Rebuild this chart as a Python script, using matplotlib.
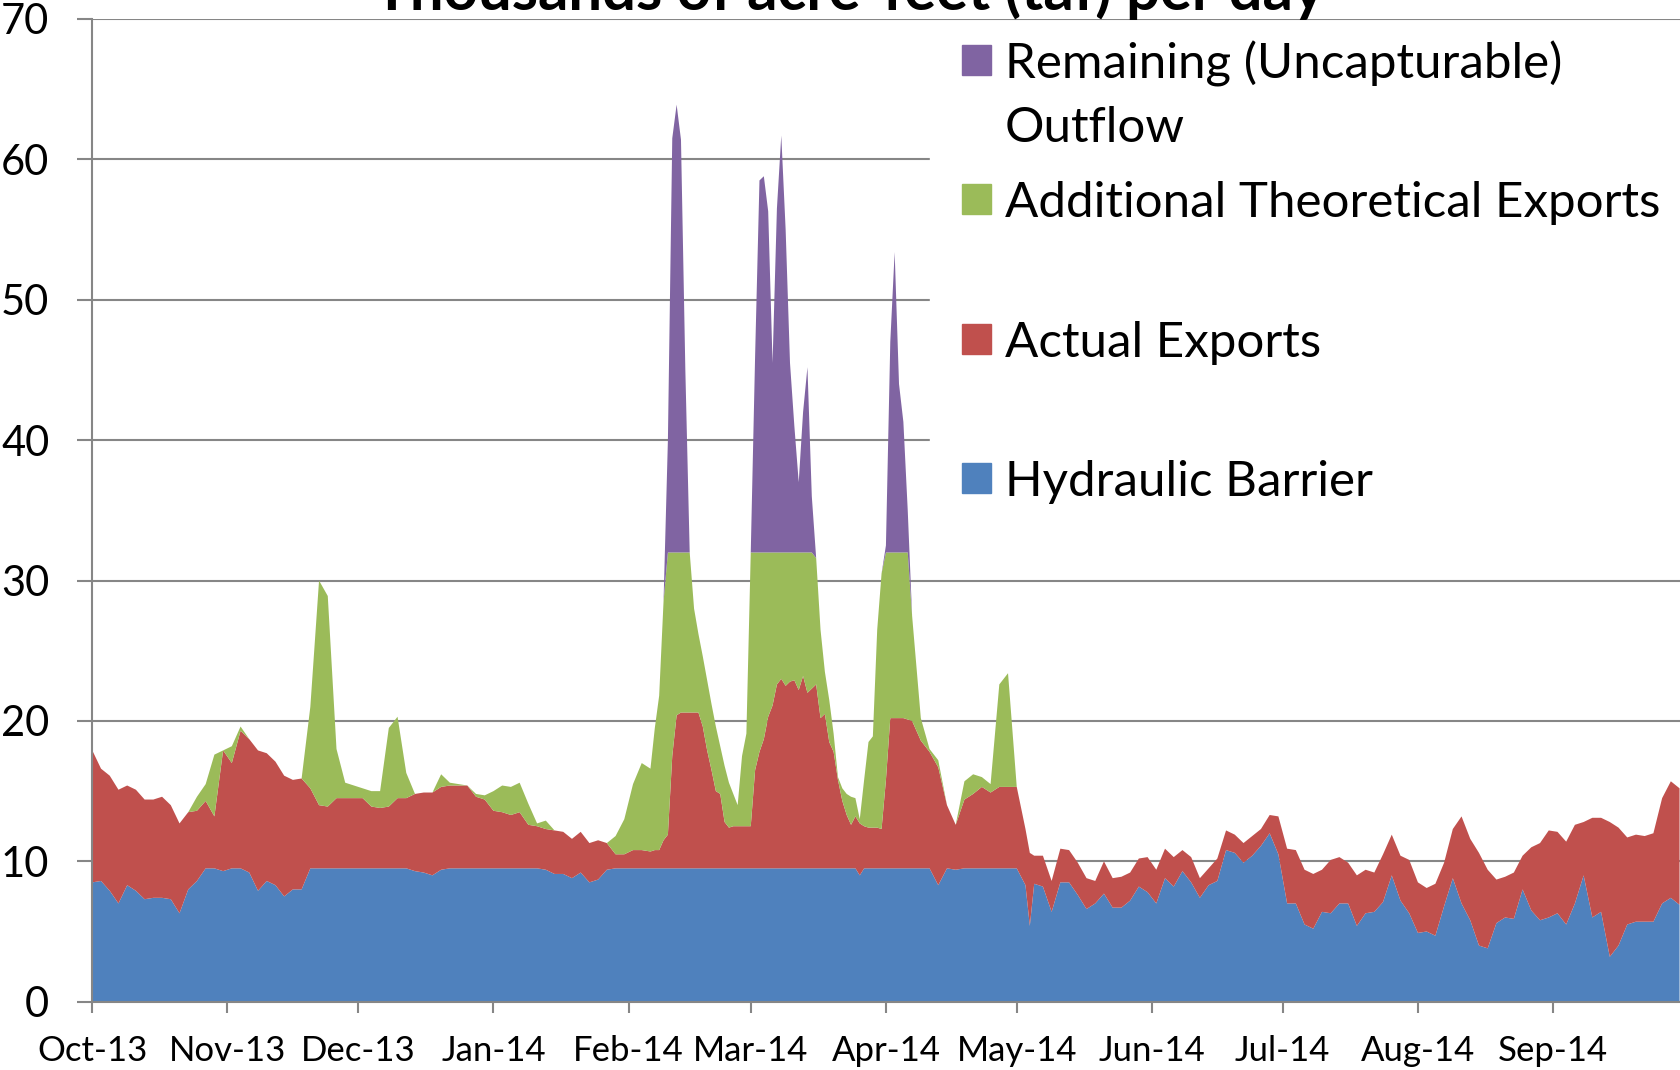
import numpy as np
import matplotlib
matplotlib.use('Agg')
import matplotlib.pyplot as plt
import matplotlib.dates as mdates
from matplotlib.patches import Rectangle

plt.rcParams['font.family'] = ['Lato', 'DejaVu Sans']

# sampling days after 1 Oct 2013 (daily around the Feb-Apr peaks)
days = (list(range(0, 128, 2)) + list(range(128, 189)) +
        list(range(190, 215, 2)) + [215] + list(range(216, 365, 2)))
start = np.datetime64('2013-10-01')
dates = start + np.array(days).astype('timedelta64[D]')

# taf per day
barrier = [
    # Oct 1 - Jan 31, every 2nd day
    8.5, 8.6, 7.9, 7.0, 8.3, 7.9, 7.3, 7.4, 7.4, 7.3,
    6.3, 8.0, 8.6, 9.5, 9.5, 9.3, 9.5, 9.5, 9.2, 7.9,
    8.6, 8.3, 7.5, 8.0, 8.0, 9.5, 9.5, 9.5, 9.5, 9.5,
    9.5, 9.5, 9.5, 9.5, 9.5, 9.5, 9.5, 9.3, 9.2, 9.0,
    9.4, 9.5, 9.5, 9.5, 9.5, 9.5, 9.5, 9.5, 9.5, 9.5,
    9.5, 9.5, 9.4, 9.1, 9.1, 8.8, 9.2, 8.5, 8.7, 9.4,
    9.5, 9.5, 9.5, 9.5,
    # Feb 6 - Apr 7, daily
    9.5, 9.5, 9.5, 9.5, 9.5, 9.5, 9.5, 9.5, 9.5, 9.5,
    9.5, 9.5, 9.5, 9.5, 9.5, 9.5, 9.5, 9.5, 9.5, 9.5,
    9.5, 9.5, 9.5, 9.5, 9.5, 9.5, 9.5, 9.5, 9.5, 9.5,
    9.5, 9.5, 9.5, 9.5, 9.5, 9.5, 9.5, 9.5, 9.5, 9.5,
    9.5, 9.5, 9.5, 9.5, 9.5, 9.5, 9.5, 9.5, 9.0, 9.5,
    9.5, 9.5, 9.5, 9.5, 9.5, 9.5, 9.5, 9.5, 9.5, 9.5,
    9.5,
    # Apr 9 - Sep 30
    9.5, 9.5, 8.3, 9.5, 9.4, 9.5, 9.5, 9.5, 9.5, 9.5,
    9.5, 9.5, 8.3, 5.4, 8.4, 8.2, 6.4, 8.5, 8.5, 7.6,
    6.6, 7.0, 7.7, 6.7, 6.7, 7.2, 8.2, 7.8, 7.0, 8.8,
    8.2, 9.3, 8.5, 7.4, 8.3, 8.6, 10.8, 10.6, 9.9, 10.4,
    11.1, 12.0, 10.5, 7.0, 7.0, 5.5, 5.2, 6.4, 6.3, 7.0,
    7.0, 5.4, 6.3, 6.4, 7.1, 9.0, 7.2, 6.3, 4.9, 5.0,
    4.7, 6.8, 8.8, 7.0, 5.8, 4.0, 3.8, 5.6, 6.0, 5.9,
    8.0, 6.5, 5.8, 6.0, 6.3, 5.5, 7.0, 9.0, 6.0, 6.4,
    3.2, 4.0, 5.5, 5.7, 5.7, 5.7, 7.0, 7.4, 6.9,
]

exports = [
    9.4, 8.0, 8.2, 8.1, 7.1, 7.2, 7.1, 7.0, 7.2, 6.7,
    6.4, 5.5, 5.0, 4.8, 3.7, 8.6, 7.5, 9.8, 9.5, 10.0,
    9.1, 8.8, 8.6, 7.8, 7.9, 5.7, 4.5, 4.4, 5.0, 5.0,
    5.0, 5.0, 4.4, 4.3, 4.4, 5.0, 5.0, 5.5, 5.7, 5.9,
    5.9, 5.9, 5.9, 5.9, 5.1, 4.9, 4.1, 4.0, 3.8, 4.0,
    3.1, 3.0, 2.9, 3.1, 3.0, 2.8, 2.9, 2.8, 2.8, 1.9,
    1.0, 1.0, 1.3, 1.3,
    1.2, 1.3, 1.3, 2.0, 2.4, 8.0, 10.9, 11.1, 11.1, 11.1,
    11.1, 11.1, 10.1, 8.4, 7.0, 5.5, 5.3, 3.3, 2.9, 3.0,
    3.0, 3.0, 3.0, 3.0, 7.0, 8.3, 9.2, 10.8, 11.6, 13.1,
    13.5, 13.0, 13.3, 13.4, 12.7, 13.7, 12.5, 12.8, 13.1, 10.7,
    11.0, 9.0, 8.3, 6.3, 4.8, 3.8, 3.1, 3.7, 3.7, 3.0,
    2.9, 2.9, 2.9, 2.8, 6.3, 10.7, 10.7, 10.7, 10.7, 10.6,
    10.5,
    9.1, 8.3, 8.4, 4.5, 3.2, 4.9, 5.3, 5.8, 5.4, 5.8,
    5.8, 5.8, 4.0, 5.2, 2.0, 2.2, 2.2, 2.4, 2.3, 2.3,
    2.2, 1.6, 2.3, 2.1, 2.2, 2.0, 2.0, 2.5, 2.4, 2.1,
    2.1, 1.5, 1.8, 1.4, 1.2, 1.6, 1.4, 1.3, 1.4, 1.4,
    1.2, 1.3, 2.7, 3.9, 3.8, 3.9, 3.9, 3.0, 3.8, 3.3,
    2.9, 3.6, 3.1, 2.8, 3.4, 2.9, 3.2, 3.8, 3.6, 3.1,
    3.7, 3.1, 3.5, 6.2, 5.8, 6.6, 5.6, 3.1, 2.9, 3.3,
    2.4, 4.5, 5.5, 6.2, 5.8, 5.9, 5.6, 3.8, 7.1, 6.7,
    9.6, 8.4, 6.2, 6.2, 6.1, 6.3, 7.5, 8.3, 8.3,
]

additional = [
    0, 0, 0, 0, 0, 0, 0, 0, 0, 0,
    0, 0, 1.0, 1.2, 4.4, 0, 1.2, 0.3, 0, 0,
    0, 0, 0, 0, 0, 5.8, 16.0, 15.0, 3.5, 1.1,
    0.9, 0.7, 1.1, 1.2, 5.6, 5.8, 1.8, 0, 0, 0,
    0.9, 0.2, 0.1, 0, 0.2, 0.3, 1.4, 1.9, 2.0, 2.1,
    1.5, 0.2, 0.6, 0, 0, 0, 0, 0, 0, 0,
    1.3, 2.5, 4.7, 6.2,
    5.9, 8.7, 11.0, 17.0, 20.1, 14.5, 11.6, 11.4, 11.4, 11.4,
    7.4, 5.6, 5.0, 5.0, 4.7, 4.6, 3.4, 4.0, 3.2, 2.3,
    1.5, 5.0, 6.6, 19.5, 15.5, 14.2, 13.3, 11.7, 10.9, 9.4,
    9.0, 9.5, 9.2, 9.1, 9.8, 8.8, 10.0, 9.7, 9.0, 6.3,
    3.0, 3.0, 1.3, 0.2, 0.9, 1.5, 2.0, 1.3, 0.3, 3.3,
    6.1, 6.5, 14.1, 18.2, 16.2, 11.8, 11.8, 11.8, 11.8, 11.9,
    7.5,
    1.6, 0.2, 0.5, 0, 0, 1.3, 1.4, 0.7, 0.6, 7.3,
    8.1, 0, 0, 0, 0, 0, 0, 0, 0, 0,
] + [0] * 69

remaining = [0] * 64 + [
    0, 0, 0, 0, 8.0, 29.5, 31.9, 29.4, 13.0, 0,
    0, 0, 0, 0, 0, 0, 0, 0, 0, 0,
    0, 0, 0, 0, 14.0, 26.5, 26.8, 24.3, 13.5, 24.5,
    29.7, 23.0, 13.5, 9.0, 5.0, 10.0, 13.2, 4.0, 0, 0,
    0, 0, 0, 0, 0, 0, 0, 0, 0, 0,
    0, 0, 0, 0, 0.5, 15.0, 21.4, 12.0, 9.3, 3.0,
    0,
] + [0] * 89

labels = ['Hydraulic Barrier', 'Actual Exports',
          'Additional Theoretical Exports', 'Remaining (Uncapturable)\nOutflow']
colors = ['#4F81BD', '#C0504D', '#9BBB59', '#8064A2']
grey = '#868686'

W, H = 1680, 1070
fig = plt.figure(figsize=(W / 100, H / 100), dpi=100)
ax = fig.add_axes([92.3 / W, 68.3 / H, (W - 92.3) / W, 982.7 / H])

ax.stackplot(dates, barrier, exports, additional, remaining,
             colors=colors, linewidth=0, zorder=2)

x0 = mdates.date2num(start)
ax.set_xlim(x0, x0 + 364.1)
ax.set_ylim(0, 70)
ax.set_yticks(range(0, 71, 10))
ax.xaxis.set_major_locator(mdates.MonthLocator())
ax.xaxis.set_major_formatter(mdates.DateFormatter('%b-%y'))

ax.yaxis.grid(True, color=grey, linewidth=1.5, zorder=0)
ax.set_axisbelow(True)
for s in ['top', 'right']:
    ax.spines[s].set_visible(False)
for s in ['left', 'bottom']:
    ax.spines[s].set_color(grey)
    ax.spines[s].set_linewidth(1.5)
ax.tick_params(axis='y', length=11, width=1.5, color=grey, pad=20, labelsize=30)
ax.tick_params(axis='x', length=8, width=1.5, color=grey, pad=16, labelsize=25)


def fx(px):
    return px / W


def fy(py):
    return 1 - py / H


# legend area (white, hides the gridlines behind it)
fig.patches.append(Rectangle((fx(930), fy(520)), fx(W - 930), 496 / H,
                             transform=fig.transFigure, color='white', zorder=1))
centers = [478, 339, 199, 60]
for lab, col, cy in zip(labels, colors, centers):
    fig.patches.append(Rectangle((fx(962), fy(cy + 15)), 29 / W, 30 / H,
                                 transform=fig.transFigure, color=col, zorder=2))
    first, *rest = lab.split('\n')
    fig.text(fx(1005), fy(cy + 4), first, ha='left', va='center', fontsize=35.5, zorder=3)
    for k, line in enumerate(rest):
        fig.text(fx(1005), fy(cy + 4 + 64 * (k + 1)), line, ha='left', va='center',
                 fontsize=35.5, zorder=3)

fig.text(fx(849), fy(10), 'Thousands of acre-feet (taf) per day', ha='center',
         va='baseline', fontsize=43, fontweight='bold')

fig.savefig('out.png', dpi=100)
